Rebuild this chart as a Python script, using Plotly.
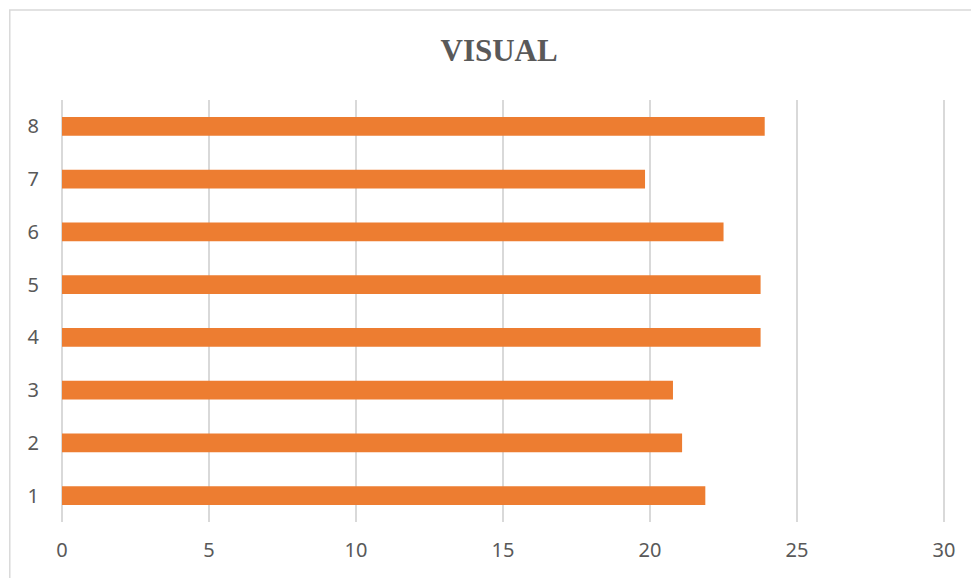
import plotly.graph_objects as go

categories = ["1", "2", "3", "4", "5", "6", "7", "8"]
values = [21.88, 21.09, 20.78, 23.76, 23.76, 22.5, 19.83, 23.9]
x_ticks = [0, 5, 10, 15, 20, 25, 30]

fig = go.Figure()
fig.add_trace(go.Bar(
    x=values, y=categories, orientation="h",
    marker=dict(color="#ED7D31", line=dict(width=0)),
    width=0.355,
))

fig.update_layout(
    width=971, height=578,
    margin=dict(l=62, r=24, t=100, b=56),
    paper_bgcolor="white", plot_bgcolor="white",
    showlegend=False,
    title=dict(text="<b>VISUAL</b>", x=0.514, xanchor="center", y=0.913, yanchor="middle",
               font=dict(family="Liberation Serif", size=31, color="#595959")),
    font=dict(family="Noto Sans", size=20, color="#595959"),
    xaxis=dict(range=[0, 30.1], tickvals=x_ticks, showgrid=True, gridcolor="#d9d9d9", gridwidth=1.5,
               zeroline=True, zerolinecolor="#d9d9d9", zerolinewidth=1.5,
               showline=False, ticks="", ticklabelstandoff=14,
               tickfont=dict(family="Noto Sans", size=20, color="#595959")),
    yaxis=dict(type="category", categoryorder="array", categoryarray=categories,
               range=[-0.5, 7.5], showgrid=False, zeroline=False, showline=False, ticks="",
               ticklabelstandoff=22,
               tickfont=dict(family="Noto Sans", size=20, color="#595959")),
    shapes=[dict(type="rect", xref="paper", yref="paper",
                 x0=-0.059, x1=1.06, y0=-0.3, y1=1.2134,
                 line=dict(color="#d9d9d9", width=1.5), fillcolor="rgba(0,0,0,0)", layer="below")],
)

fig.write_html("out.html", config={"displayModeBar": False})

with open("out.html", "r", encoding="utf-8") as f:
    html = f.read()
html = html.replace("<head>", "<head><style>html,body{margin:0;padding:0;overflow:hidden;}</style>", 1)
with open("out.html", "w", encoding="utf-8") as f:
    f.write(html)
